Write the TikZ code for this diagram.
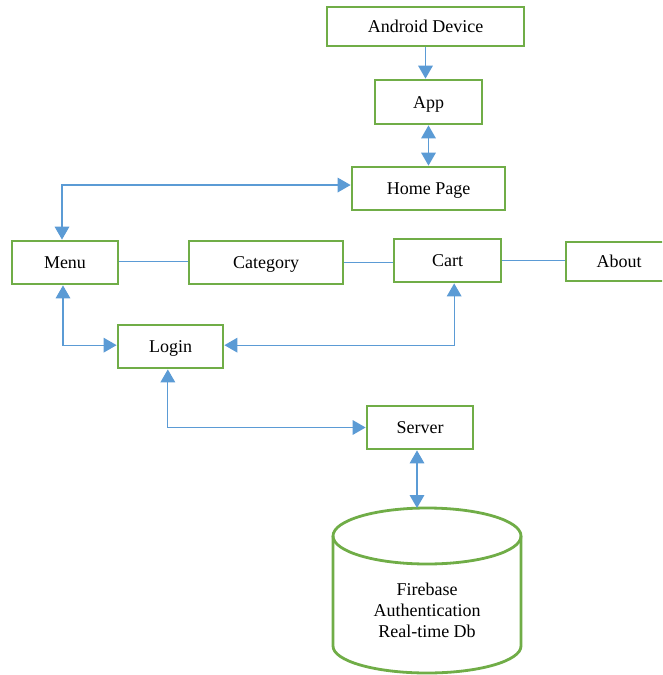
\documentclass[tikz,border=0pt]{standalone}
\usepackage{fontspec}
\setmainfont{Liberation Serif}
\usetikzlibrary{arrows.meta,calc}
\definecolor{boxgreen}{RGB}{112,173,71}
\definecolor{linkblue}{RGB}{91,155,213}
\begin{document}
\begin{tikzpicture}[x=0.75pt,y=-0.75pt,
  box/.style={draw=boxgreen,line width=2.1pt,fill=white,rectangle,inner sep=0pt,
    minimum height=32.25pt,text height=0.9em,text depth=0pt,
    font=\fontsize{13.5pt}{16pt}\selectfont},
  link/.style={draw=linkblue,line width=0.9pt},
  tip/.style={-{Triangle[length=9.75pt,width=11pt]}},
  tips/.style={{Triangle[length=9.75pt,width=11pt]}-{Triangle[length=9.75pt,width=11pt]}}]
\clip (0,0) rectangle (662,675);
\fill[white] (0,0) rectangle (662,675);
% boxes
\node[box,minimum width=147.75pt,minimum height=29.25pt] (android) at (425.5,26.5) {Android Device};
\node[box,minimum width=80.25pt,minimum height=33pt] (app) at (428.5,102) {App};
\node[box,minimum width=114.75pt] (home) at (428.5,188.5) {Home Page};
\node[box,minimum width=79.5pt] (menu) at (65,262.5) {Menu};
\node[box,minimum width=115.5pt] (category) at (266,262.5) {Category};
\node[box,minimum width=80.25pt] (cart) at (447.5,260.5) {Cart};
\node[box,minimum width=79.5pt,minimum height=29.25pt] (about) at (619,261.5) {About};
\node[box,minimum width=78.75pt] (login) at (170.5,346.5) {Login};
\node[box,minimum width=79.5pt] (server) at (420,427.5) {Server};
% cylinder
\draw[boxgreen,line width=2.1pt,fill=white]
  (333,536) -- (333,646) arc[start angle=180,end angle=0,x radius=94,y radius=27]
  -- (521,536) arc[start angle=0,end angle=-180,x radius=94,y radius=28] -- cycle;
\draw[boxgreen,line width=2.1pt] (333,536) arc[start angle=180,end angle=0,x radius=94,y radius=28];
\coordinate (dbtop) at (417,508);
\node[align=center,font=\fontsize{13.5pt}{15.8pt}\selectfont] (db) at (427,610)
  {Firebase\\Authentication\\Real-time Db};
% connectors
\draw[link,tip] (android.south) -- (android.south |- app.north);
\draw[link,tips] (app.south) -- (app.south |- home.north);
\draw[link,tips] ([yshift=2.6pt]home.west) -| ([xshift=-2.25pt]menu.north);
\draw[link] ([yshift=1pt]menu.east) -- ([yshift=1pt]menu.east -| category.west);
\draw[link] (category.east) -- (category.east -| cart.west);
\draw[link] (cart.east) -- (cart.east -| about.west);
\draw[link,tips] ([xshift=-1.5pt]menu.south) |- ([yshift=1pt]login.west);
\draw[link,tips] ([xshift=5pt]cart.south) |- ([yshift=1pt]login.east);
\draw[link,tips] ([xshift=-2pt]login.south) |- (server.west);
\draw[link,tips] ([xshift=-2.25pt]server.south) -- (dbtop);
\end{tikzpicture}
\end{document}
